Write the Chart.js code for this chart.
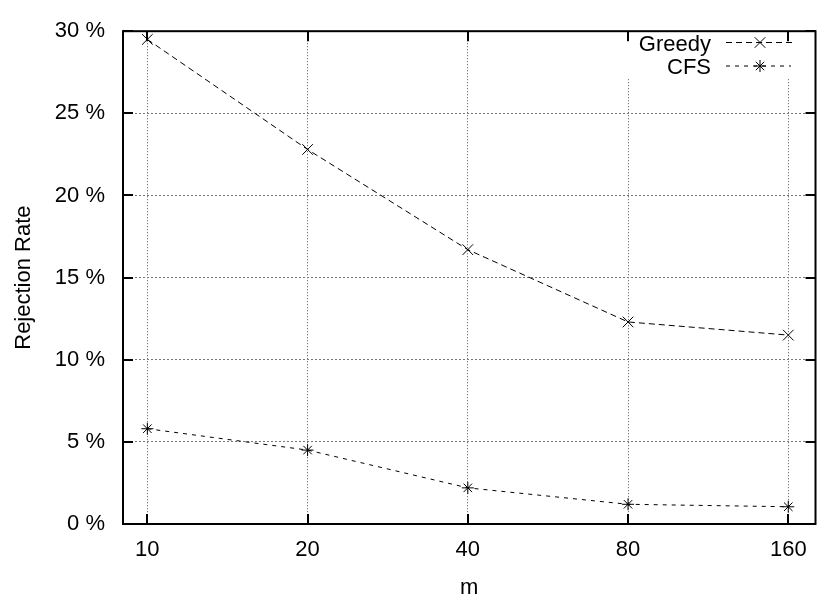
<!DOCTYPE html>
<html><head><meta charset="utf-8">
<script src="https://cdn.jsdelivr.net/npm/chart.js@4/dist/chart.umd.min.js"></script>
<style>html,body{margin:0;padding:0;background:#fff;}</style>
</head><body>
<canvas id="c" width="824" height="598"></canvas>
<script>
// ---- data ----
const categories = [10, 20, 40, 80, 160];          // m
const xTickLabels = ['10', '20', '40', '80', '160'];
const greedyValues = [29.5, 22.8, 16.7, 12.3, 11.5]; // %
const cfsValues = [5.8, 4.5, 2.2, 1.2, 1.05];        // %
const yTicks = [0, 5, 10, 15, 20, 25, 30];
const yTickLabels = ['0 %', '5 %', '10 %', '15 %', '20 %', '25 %', '30 %'];
const seriesNames = ['Greedy', 'CFS'];
const xTitle = 'm';
const yTitle = 'Rejection Rate';

const FONT = "'Liberation Sans', Arial, Helvetica, sans-serif";
const FSIZE = 22;

const toPoints = (vals) => categories.map((c, i) => ({ x: c, y: vals[i] }));

const seriesStyle = [
  { dash: [6, 4], pointStyle: 'crossRot', radius: 7.5 },
  { dash: [4, 5], pointStyle: 'star', radius: 6 }
];

const legendPlugin = {
  id: 'insideLegend',
  beforeDatasetsDraw(chart) {
    const { ctx } = chart;
    ctx.save();
    ctx.fillStyle = '#fff';
    ctx.fillRect(622, 21, 200, 58);
    ctx.restore();
  },
  afterDatasetsDraw(chart) {
    const { ctx } = chart;
    const rows = [{ y: 42.5, x1: 726, x2: 795 }, { y: 66, x1: 726, x2: 791 }];
    ctx.save();
    chart.data.datasets.forEach((ds, i) => {
      const r = rows[i];
      ctx.fillStyle = '#000';
      ctx.font = FSIZE + 'px ' + FONT;
      ctx.textAlign = 'right';
      ctx.textBaseline = 'alphabetic';
      ctx.fillText(ds.label, 711, r.y + 8);
      ctx.strokeStyle = '#000';
      ctx.lineWidth = 1;
      ctx.setLineDash(ds.borderDash);
      ctx.beginPath();
      ctx.moveTo(r.x1, r.y);
      ctx.lineTo(r.x2, r.y);
      ctx.stroke();
      ctx.setLineDash([]);
      Chart.helpers.drawPoint(ctx, {
        pointStyle: ds.pointStyle, radius: ds.pointRadius, rotation: 0, borderWidth: 1
      }, 760, r.y);
    });
    ctx.restore();
  }
};

const framePlugin = {
  id: 'frame',
  afterDraw(chart) {
    const { ctx, chartArea: { left, right, top, bottom }, scales: { x, y } } = chart;
    ctx.save();
    ctx.strokeStyle = '#000';
    ctx.lineWidth = 2;
    ctx.setLineDash([]);
    ctx.beginPath();
    categories.forEach(v => {
      const px = Math.round(x.getPixelForValue(v));
      ctx.moveTo(px, bottom); ctx.lineTo(px, bottom - 10);
      ctx.moveTo(px, top); ctx.lineTo(px, top + 10);
    });
    yTicks.forEach(v => {
      const py = Math.round(y.getPixelForValue(v));
      ctx.moveTo(left, py); ctx.lineTo(left + 10, py);
      ctx.moveTo(right, py); ctx.lineTo(right - 10, py);
    });
    ctx.stroke();
    ctx.strokeRect(left, top, right - left, bottom - top);
    ctx.restore();
  }
};

new Chart(document.getElementById('c'), {
  type: 'line',
  data: {
    datasets: [greedyValues, cfsValues].map((vals, i) => ({
      label: seriesNames[i],
      data: toPoints(vals),
      borderColor: '#000',
      backgroundColor: '#000',
      borderWidth: 1,
      borderDash: seriesStyle[i].dash,
      tension: 0,
      fill: false,
      pointStyle: seriesStyle[i].pointStyle,
      pointRadius: seriesStyle[i].radius,
      pointBorderColor: '#000',
      pointBorderWidth: 1
    }))
  },
  options: {
    responsive: false,
    animation: false,
    devicePixelRatio: 1,
    layout: { padding: { top: 20, right: 1, left: 0, bottom: 0 } },
    plugins: { legend: { display: false }, tooltip: { enabled: false } },
    scales: {
      x: {
        type: 'logarithmic',
        min: 9, max: 180,
        afterBuildTicks: (s) => { s.ticks = categories.map(v => ({ value: v })); },
        afterFit: (s) => { s.height = 74; },
        ticks: {
          autoSkip: false, maxRotation: 0, padding: 13, color: '#000',
          font: { family: FONT, size: FSIZE },
          callback: (v) => xTickLabels[categories.indexOf(v)] ?? ''
        },
        grid: { color: '#555', lineWidth: 1, drawTicks: false },
        border: { display: false, dash: [1, 2] },
        title: { display: true, text: xTitle, color: '#000', font: { family: FONT, size: FSIZE }, padding: { top: 0, bottom: -3 } }
      },
      y: {
        type: 'linear',
        min: 0, max: 30,
        afterBuildTicks: (s) => { s.ticks = yTicks.map(v => ({ value: v })); },
        afterFit: (s) => { s.width = 123; },
        ticks: {
          padding: 18, color: '#000',
          font: { family: FONT, size: FSIZE },
          callback: (v) => yTickLabels[yTicks.indexOf(v)] ?? ''
        },
        grid: { color: '#777', lineWidth: 1, drawTicks: false },
        border: { display: false, dash: [2, 2] },
        title: { display: true, text: yTitle, color: '#000', font: { family: FONT, size: FSIZE }, padding: { top: 11, bottom: 0 } }
      }
    }
  },
  plugins: [legendPlugin, framePlugin]
});
</script>
</body></html>
